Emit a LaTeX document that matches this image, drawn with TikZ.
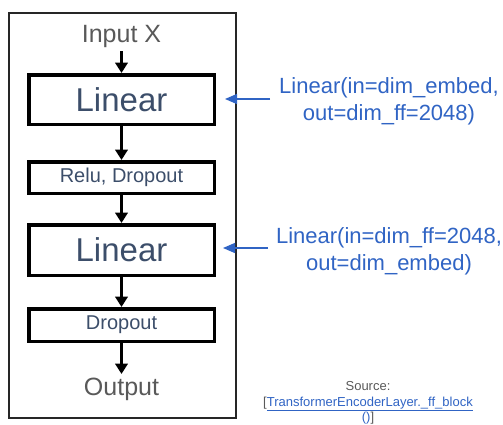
\documentclass[tikz,border=0pt]{standalone}
\usepackage{fontspec}
\setmainfont{Liberation Sans}
\usetikzlibrary{arrows.meta,calc}
\definecolor{anno}{RGB}{48,100,196}
\definecolor{slate}{RGB}{60,78,106}
\definecolor{greytext}{RGB}{89,89,89}

\begin{document}
\begin{tikzpicture}[x=1pt,y=-1pt,
  layer/.style={draw=black,line width=3.5pt,minimum width=185.5pt,inner sep=0pt,text=slate},
  flow/.style={line width=3pt,-{Triangle[width=12.5pt,length=10.5pt]}},
  note/.style={->,draw=anno,line width=1.3pt,-{Triangle[width=10pt,length=12pt]}}]
  \useasboundingbox (0,0) rectangle (503,424);
  \draw[line width=1.8pt,draw=black!85] (9,13) rectangle (236,418);
  \node[text=greytext,font=\fontsize{25}{30}\selectfont] (0) at (121.5,36) {Input X};
  \node[layer,minimum height=49.5pt,font=\fontsize{33}{40}\selectfont] (1) at (121.5,99.5) {Linear};
  \node[layer,minimum height=31.5pt,font=\fontsize{20}{24}\selectfont] (2) at (121.5,177.5) {Relu, Dropout};
  \node[layer,minimum height=50.5pt,font=\fontsize{33}{40}\selectfont] (3) at (121.5,250) {Linear};
  \node[layer,minimum height=32.5pt,font=\fontsize{20}{24}\selectfont] (4) at (121.5,325) {Dropout};
  \node[text=greytext,font=\fontsize{25}{30}\selectfont] (5) at (121.5,389) {Output};
  \draw[flow] (121.5,51) -- (1.north);
  \draw[flow] (1) -- (2);
  \draw[flow] (2) -- (3);
  \draw[flow] (3) -- (4);
  \draw[flow] (4.south) -- (121.5,374);
  % annotations
  \node[text=anno,align=center,font=\fontsize{22}{27}\selectfont] (6) at (389,101) {Linear(in=dim\_embed,\\out=dim\_ff=2048)};
  \node[text=anno,align=center,font=\fontsize{22}{27}\selectfont] (7) at (389,251) {Linear(in=dim\_ff=2048,\\out=dim\_embed)};
  \coordinate (a6) at (225,99);
  \coordinate (a7) at (223,248);
  \draw[note] (270,99) -- (a6);
  \draw[note] (268,248) -- (a7);
  \node[text=greytext,align=center,font=\fontsize{13}{15.5}\selectfont] (8) at (368,404)
    {Source:\\{[}\textcolor{anno}{\underline{TransformerEncoderLayer.\_ff\_block}}\\\textcolor{anno}{\underline{()}}{]}};
\end{tikzpicture}
\end{document}
